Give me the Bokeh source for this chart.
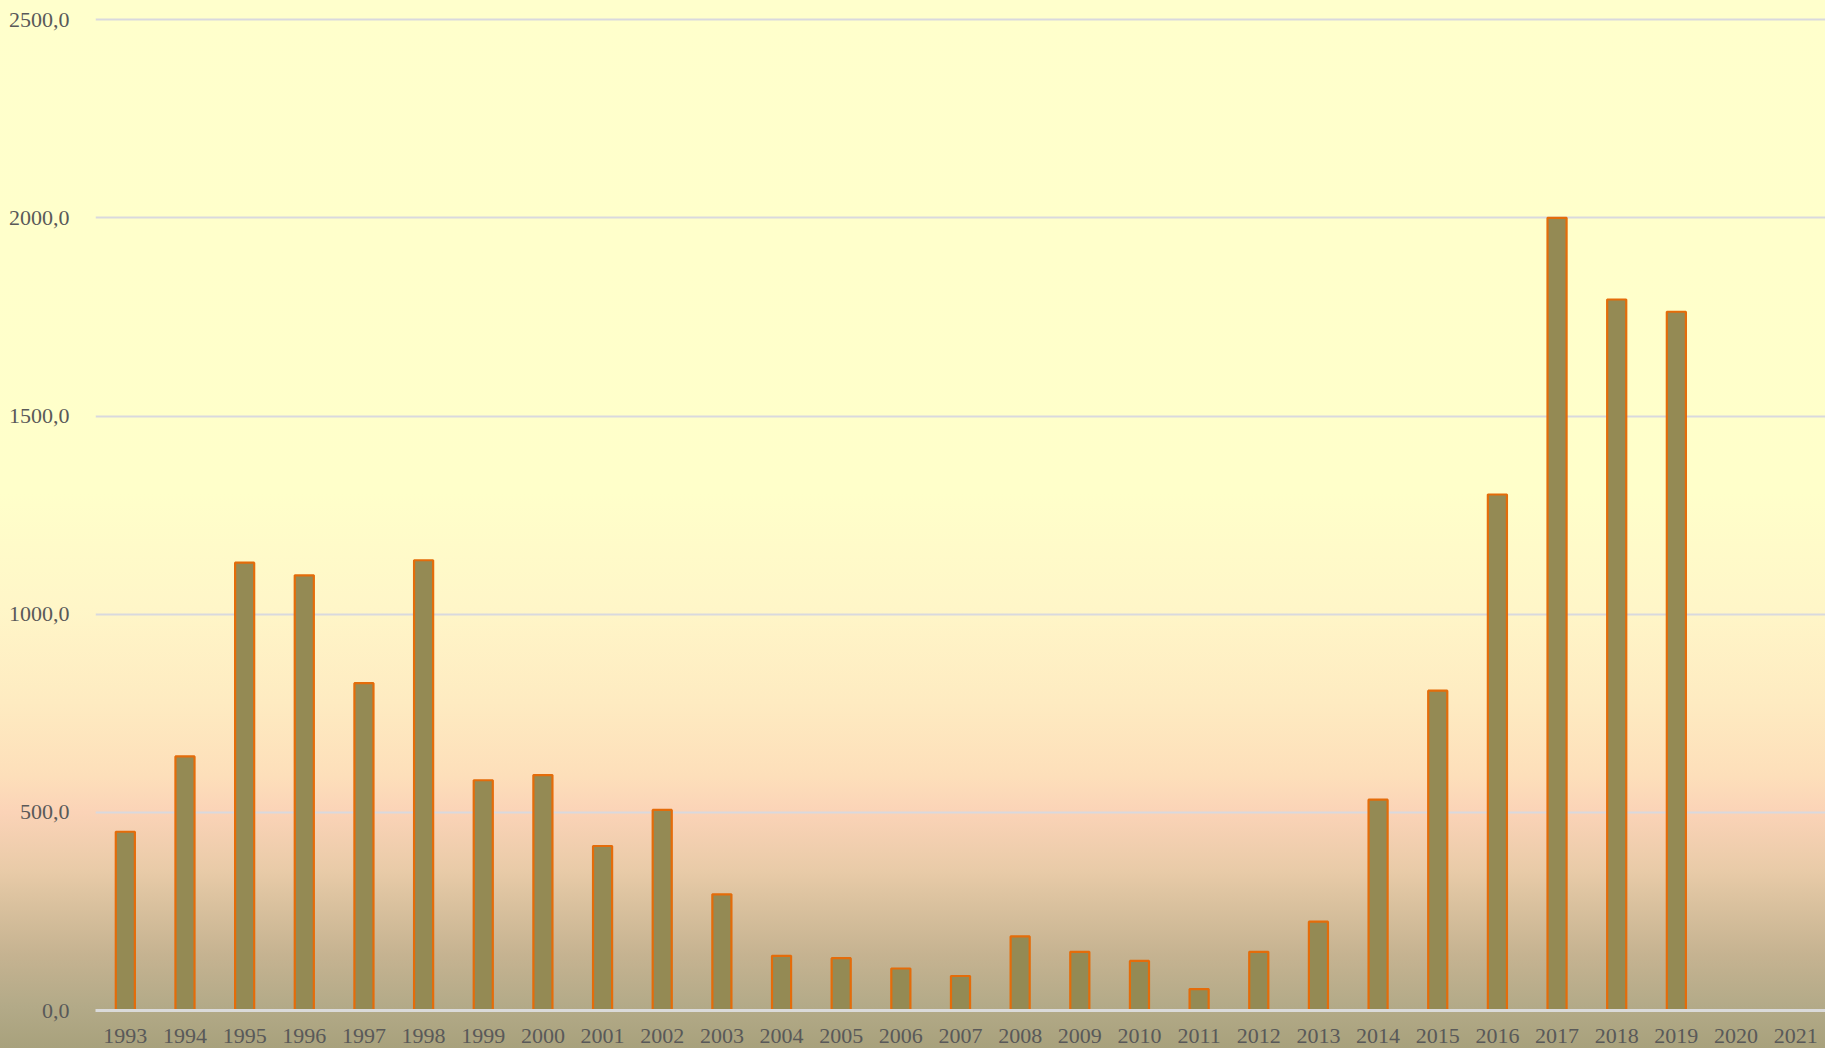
from bokeh.plotting import figure
from bokeh.models import (ColumnDataSource, FactorRange, Range1d, FixedTicker,
                          CustomJSTickFormatter, GlobalInlineStyleSheet)
from bokeh.embed import file_html
from bokeh.resources import INLINE

# ---- data ----
years = [str(y) for y in range(1993, 2022)]
bar_years = [str(y) for y in range(1993, 2020)]
values = [451, 641, 1130, 1098, 826, 1136, 581, 594, 415, 506,
          293, 138, 132, 106, 87, 187, 148, 125, 54, 148,
          224, 532, 807, 1302, 2000, 1794, 1763]
y_ticks = [0, 500, 1000, 1500, 2000, 2500]

source = ColumnDataSource(dict(year=bar_years, value=values))

W, H = 1825, 1048
p = figure(x_range=FactorRange(*years, range_padding=0),
           y_range=Range1d(0, 2508),
           width=W, height=H, output_backend="svg", toolbar_location=None,
           min_border_left=95, min_border_right=0, min_border_top=16,
           min_border_bottom=38)

p.border_fill_color = None
p.background_fill_color = None
p.outline_line_color = None

p.stylesheets = [GlobalInlineStyleSheet(css="""
html, body { margin: 0 !important; padding: 0; overflow: hidden; }
body {
  background: linear-gradient(to bottom,
    #FFFFCC 0%, #FFFFCA 47%, #FFF6C8 58%, #FEEBC1 67%, #FDDFBA 74%,
    #FBD3B7 77.5%, #E9CBA8 83%, #DBC29F 86%, #C6B391 91%, #B3AA88 96%,
    #A8A17C 100%);
  height: 1048px;
}
""")]

p.vbar(x="year", top="value", width=0.32, source=source,
       fill_color="#948A54", line_color="#E46C0A", line_width=2.2)

# grid
p.xgrid.grid_line_color = None
p.ygrid.grid_line_color = "#D9D9DE"
p.ygrid.grid_line_width = 2
p.ygrid.ticker = FixedTicker(ticks=y_ticks[1:])

# y axis
p.yaxis.ticker = FixedTicker(ticks=y_ticks)
p.yaxis.formatter = CustomJSTickFormatter(code="return tick.toFixed(1).replace('.', ',');")
p.yaxis.axis_line_color = None
p.yaxis.major_tick_line_color = None
p.yaxis.minor_tick_line_color = None
p.yaxis.major_label_standoff = 20
p.yaxis.major_label_text_font = "Liberation Serif"
p.yaxis.major_label_text_font_size = "22px"
p.yaxis.major_label_text_color = "#595959"

# x axis
p.xaxis.axis_line_color = "#DADADA"
p.xaxis.axis_line_width = 3
p.xaxis.major_tick_line_color = None
p.xaxis.minor_tick_line_color = None
p.xaxis.major_label_standoff = 12
p.xaxis.major_label_text_font = "Liberation Serif"
p.xaxis.major_label_text_font_size = "22px"
p.xaxis.major_label_text_color = "#595959"
p.xaxis.group_text_font_size = "0px"

open("out.html", "w").write(file_html(p, INLINE))
